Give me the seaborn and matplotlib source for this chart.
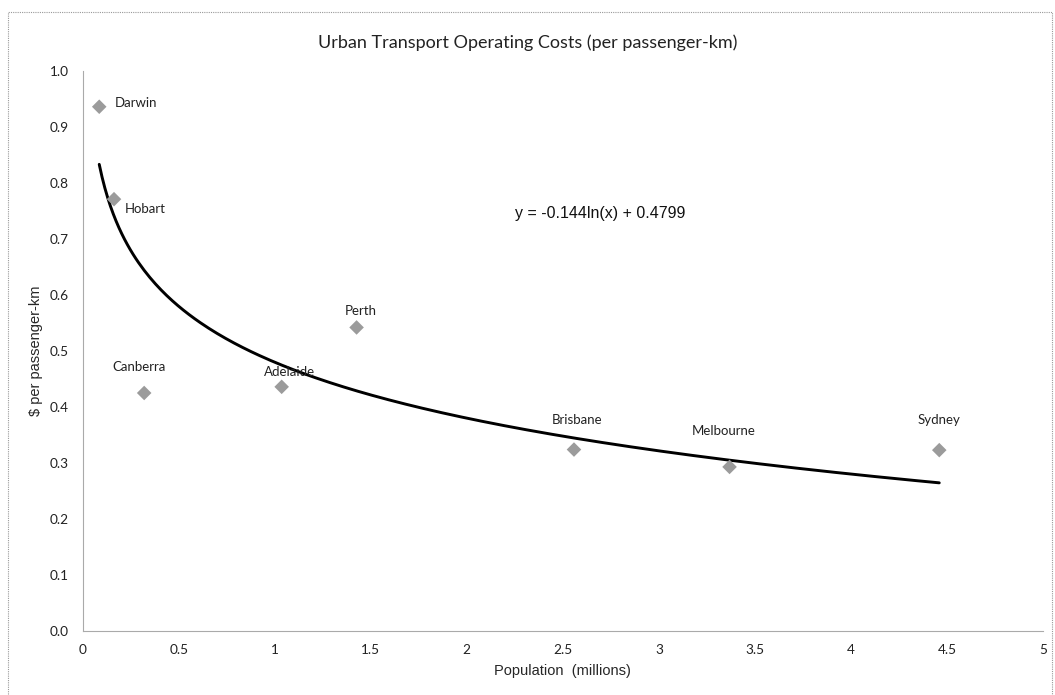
import numpy as np
import pandas as pd
import matplotlib.pyplot as plt
import seaborn as sns
from matplotlib.patches import Rectangle
from matplotlib.ticker import FuncFormatter

# values
cities = ['Darwin', 'Hobart', 'Canberra', 'Adelaide', 'Perth', 'Brisbane', 'Melbourne', 'Sydney']
population = [0.086, 0.163, 0.32, 1.036, 1.426, 2.558, 3.368, 4.46]
cost = [0.936, 0.771, 0.425, 0.436, 0.542, 0.324, 0.293, 0.323]

# trendline shown on the chart: y = a*ln(x) + b
trend_a = -0.144
trend_b = 0.4799

df = pd.DataFrame({'city': cities, 'pop': population, 'cost': cost})

sns.set_theme(style='white')
plt.rcParams['font.family'] = ['Lato', 'DejaVu Sans']

fig = plt.figure(figsize=(10.55, 6.95), dpi=100)
ax = fig.add_axes([0.0784, 0.092, 0.9102, 0.806])

# trend curve over the data range
xs = np.linspace(df['pop'].min(), df['pop'].max(), 300)
trend = pd.DataFrame({'x': xs, 'y': trend_a * np.log(xs) + trend_b})
sns.lineplot(data=trend, x='x', y='y', ax=ax, color='black', linewidth=2.1)

sns.scatterplot(data=df, x='pop', y='cost', ax=ax, marker='D', s=55,
                color='#9b9b9b', edgecolor='none', zorder=3)

# label offsets in points (dx, dy, ha)
offsets = {
    'Darwin': (11, 3, 'left'),
    'Hobart': (8, -7, 'left'),
    'Canberra': (-4, 19, 'center'),
    'Adelaide': (6, 11, 'center'),
    'Perth': (3, 12, 'center'),
    'Brisbane': (2, 21, 'center'),
    'Melbourne': (-4, 26, 'center'),
    'Sydney': (0, 22, 'center'),
}
for _, r in df.iterrows():
    dx, dy, ha = offsets[r['city']]
    ax.annotate(r['city'], (r['pop'], r['cost']), xytext=(dx, dy),
                textcoords='offset points', ha=ha, va='center',
                fontsize=9.5, color='#222222')

ax.text(2.25, 0.746, 'y = -0.144ln(x) + 0.4799', fontsize=11.5,
        family=['Liberation Sans', 'DejaVu Sans'], va='center', ha='left',
        color='#111111')

ax.set_xlim(0, 5)
ax.set_ylim(0, 1.0)
ax.set_xticks(np.arange(0, 5.01, 0.5))
ax.set_yticks(np.arange(0, 1.01, 0.1))
ax.xaxis.set_major_formatter(FuncFormatter(lambda v, p: '%g' % v))
ax.yaxis.set_major_formatter(FuncFormatter(lambda v, p: '%.1f' % v))
ax.tick_params(axis='both', length=0, labelsize=9.8, colors='#222222')
ax.tick_params(axis='x', pad=9)
ax.tick_params(axis='y', pad=10)

ax.set_xlabel('Population  (millions)', fontsize=10.5,
              family=['Liberation Sans', 'DejaVu Sans'], labelpad=6)
ax.set_ylabel('\\$ per passenger-km', fontsize=10.5,
              family=['Liberation Sans', 'DejaVu Sans'], labelpad=5)

for side in ['top', 'right']:
    ax.spines[side].set_visible(False)
for side in ['left', 'bottom']:
    ax.spines[side].set_color('#aaaaaa')
    ax.spines[side].set_linestyle((0, (1, 1)))
    ax.spines[side].set_linewidth(0.8)

fig.suptitle('Urban Transport Operating Costs (per passenger-km)',
             y=0.95, fontsize=13, color='#222222')

# dotted outer frame of the chart area
fig.patches.append(Rectangle((0.0076, -0.01), 0.99, 0.993, transform=fig.transFigure,
                             fill=False, edgecolor='#999999', linewidth=0.8,
                             linestyle=(0, (1, 1))))

fig.savefig('out.png', dpi=100)
